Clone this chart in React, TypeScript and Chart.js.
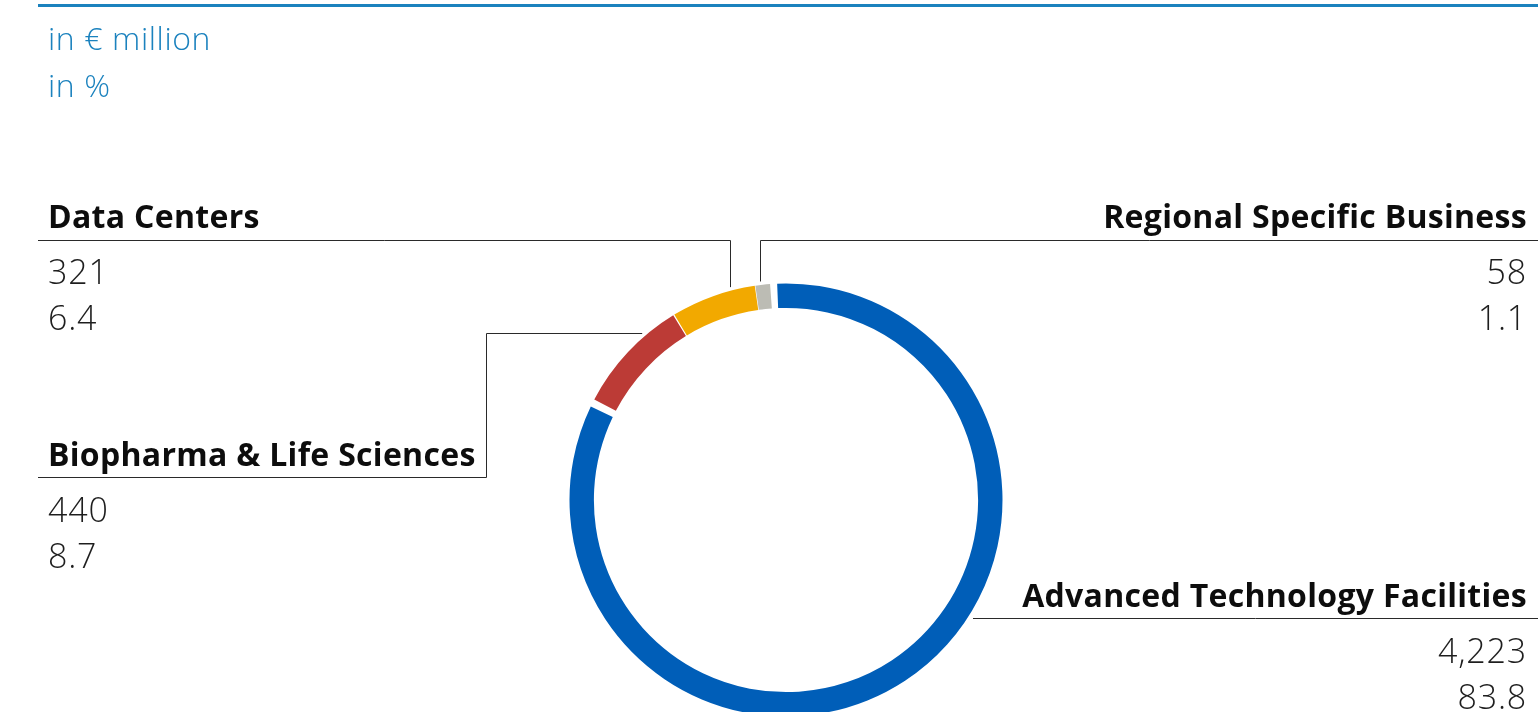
import React, { useEffect, useRef } from "react";
import { Chart, registerables } from "chart.js";

Chart.register(...registerables);

const categories = [
  "Advanced Technology Facilities",
  "Biopharma & Life Sciences",
  "Data Centers",
  "Regional Specific Business",
];
const valuesMillion = [4223, 440, 321, 58];
const sharePercent = [83.8, 8.7, 6.4, 1.1];
const segmentColors = ["#005eb8", "#bc3b36", "#f2a900", "#bcbcb4"];
const unitLabels = ["in € million", "in %"];

const W = 1538;
const H = 712;
const CANVAS_H = 720;
const CX = 786;
const CY = 500;
const R = 214;
const SPACING = 5;
const SIDE = 2 * R + SPACING;

const FONT = "'Open Sans', 'Noto Sans', Lato, sans-serif";
const BLUE_TEXT = "#1b82be";

// label layout: which side, heading baseline
const labelLayout = [
  { align: "right", baseline: 607 },
  { align: "left", baseline: 466 },
  { align: "left", baseline: 228 },
  { align: "right", baseline: 228 },
];

function top(baseline: number, size: number) {
  return baseline - 0.888 * size;
}

const leaderPlugin = {
  id: "leaders",
  afterDraw(chart: any) {
    const ctx = chart.ctx;
    const arc = chart.getDatasetMeta(0).data[0];
    if (!arc) return;
    const cx = arc.x;
    const cy = arc.y;
    const rr = arc.outerRadius + 6;
    const yAtX = (x: number) => cy - Math.sqrt(rr * rr - (x - cx) * (x - cx));
    const xAtY = (y: number) => cx - Math.sqrt(rr * rr - (y - cy) * (y - cy));
    ctx.save();
    ctx.strokeStyle = "#2a2a2a";
    ctx.lineWidth = 1;
    const seg = (pts: number[][]) => {
      ctx.beginPath();
      pts.forEach((p, i) => (i ? ctx.lineTo(p[0], p[1]) : ctx.moveTo(p[0], p[1])));
      ctx.stroke();
    };
    // Data Centers
    seg([[38, 240.5], [730.5, 240.5], [730.5, yAtX(730.5)]]);
    // Regional Specific Business
    seg([[W, 240.5], [760.5, 240.5], [760.5, yAtX(760.5)]]);
    // Biopharma
    seg([[38, 477.5], [486.5, 477.5], [486.5, 333.5], [xAtY(333.5), 333.5]]);
    // Advanced Technology Facilities
    seg([[973, 618.5], [W, 618.5]]);
    // top blue rule
    ctx.fillStyle = BLUE_TEXT;
    ctx.fillRect(38, 4, W - 38, 3);
    ctx.restore();
  },
};

export default function App() {
  const ref = useRef<HTMLCanvasElement>(null);
  useEffect(() => {
    if (!ref.current) return;
    const left = CX - SIDE / 2;
    const topPad = CY - SIDE / 2;
    const chart = new Chart(ref.current, {
      type: "doughnut",
      data: {
        labels: categories,
        datasets: [
          {
            data: sharePercent,
            backgroundColor: segmentColors,
            borderWidth: 0,
            hoverOffset: 0,
          },
        ],
      },
      options: {
        responsive: false,
        animation: false,
        devicePixelRatio: 1,
        rotation: -4.2,
        cutout: "88.6%",
        spacing: SPACING,
        layout: {
          padding: {
            left,
            top: topPad,
            right: W - (left + SIDE),
            bottom: CANVAS_H - (topPad + SIDE),
          },
        },
        plugins: {
          legend: { display: false },
          tooltip: { enabled: false },
        },
      },
      plugins: [leaderPlugin],
    });
    return () => chart.destroy();
  }, []);

  const headSize = 32;
  const numSize = 34;
  const unitSize = 32;

  return (
    <div
      style={{
        position: "absolute",
        left: 0,
        top: 0,
        width: W,
        height: H,
        overflow: "hidden",
        background: "#fff",
        fontFamily: FONT,
      }}
    >
      <canvas
        ref={ref}
        width={W}
        height={CANVAS_H}
        style={{ position: "absolute", left: 0, top: 0, width: W, height: CANVAS_H }}
      />
      {unitLabels.map((t, i) => (
        <div
          key={t}
          style={{
            position: "absolute",
            left: 48,
            top: top(50 + i * 47, unitSize),
            fontSize: unitSize,
            lineHeight: unitSize + "px",
            fontWeight: 300,
            color: BLUE_TEXT,
            whiteSpace: "nowrap",
            letterSpacing: 0.6,
          }}
        >
          {t}
        </div>
      ))}
      {categories.map((c, i) => {
        const L = labelLayout[i];
        const pos: any =
          L.align === "left" ? { left: 48 } : { right: W - 1527 };
        const lines = [
          { text: c, size: headSize, weight: 700, base: L.baseline, color: "#0d0d0d", ls: 0.3 },
          {
            text: valuesMillion[i].toLocaleString("en-US"),
            size: numSize,
            weight: 300,
            base: L.baseline + 56,
            color: "#1e1e1e",
            ls: 0.8,
          },
          {
            text: sharePercent[i].toFixed(1),
            size: numSize,
            weight: 300,
            base: L.baseline + 102,
            color: "#1e1e1e",
            ls: 0.8,
          },
        ];
        return lines.map((ln, j) => (
          <div
            key={c + j}
            style={{
              position: "absolute",
              ...pos,
              top: top(ln.base, ln.size),
              fontSize: ln.size,
              lineHeight: ln.size + "px",
              fontWeight: ln.weight,
              color: ln.color,
              whiteSpace: "nowrap",
              letterSpacing: ln.ls,
              textAlign: L.align as any,
            }}
          >
            {ln.text}
          </div>
        ));
      })}
    </div>
  );
}
